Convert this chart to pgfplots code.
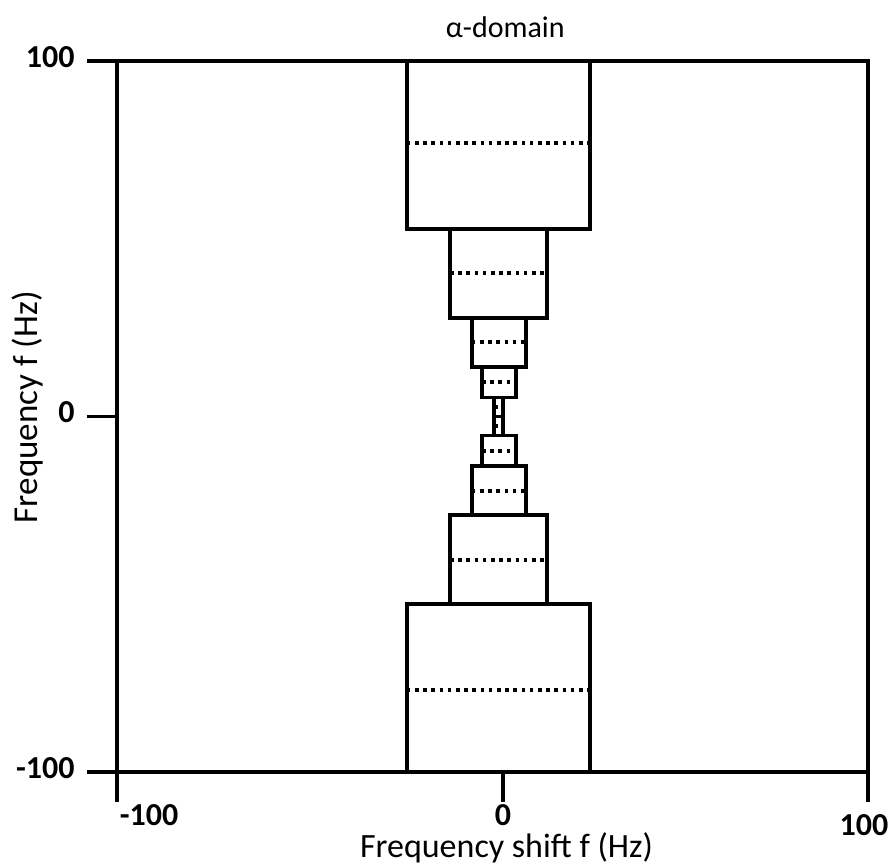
\documentclass[border=0pt]{standalone}
\usepackage{pgfplots}
\pgfplotsset{compat=1.18}
\usepackage{fontspec}
\setmainfont{Carlito}

\begin{document}
\begin{tikzpicture}
\begin{axis}[
  scale only axis, width=375.5pt, height=355.5pt,
  xmin=-100, xmax=100, ymin=-100, ymax=100,
  clip=false,
  axis line style={line width=1.7pt},
  tick align=outside, xtick pos=bottom, ytick pos=left,
  major tick length=15pt,
  every tick/.style={black, line width=1.7pt},
  xtick={-100,2.8,100},
  xticklabels={\hspace*{32pt}-100, 0, \raisebox{-5pt}[\height][\depth]{100}\hspace*{4pt}},
  ytick={-100,0,100}, yticklabels={-100,0,100},
  ticklabel style={font=\fontsize{16}{19}\selectfont\bfseries},
  xticklabel style={yshift=2.5pt},
  yticklabel style={xshift=-2.7pt, yshift=2pt},
  xlabel={Frequency shift f (Hz)},
  ylabel={Frequency f (Hz)},
  xlabel style={font=\fontsize{17}{20}\selectfont, at={(axis description cs:0.5186,-0.1205)}, anchor=base},
  ylabel style={font=\fontsize{17.5}{20}\selectfont, at={(axis description cs:-0.1185,0.513)}, anchor=center},
  title={α-domain},
  title style={font=\fontsize{15}{18}\selectfont, at={(axis description cs:0.517,1.016)}, anchor=base},
  box/.style={black, line width=1.7pt, line join=miter},
  mid/.style={black, line width=2pt, dash pattern=on 1.8pt off 2.3pt},
]
% upper half
\addplot[box] coordinates {(-22.8,52.7) (-22.8,100) (26,100) (26,52.7)} --cycle;
\addplot[mid] coordinates {(-22.8,77) (26,77)};
\addplot[box] coordinates {(-11.3,27.7) (-11.3,52.7) (14.5,52.7) (14.5,27.7)} --cycle;
\addplot[mid] coordinates {(-11.3,40.3) (14.5,40.3)};
\addplot[box] coordinates {(-5.5,13.9) (-5.5,27.7) (8.9,27.7) (8.9,13.9)} --cycle;
\addplot[mid] coordinates {(-5.5,21) (8.9,21)};
\addplot[box] coordinates {(-2.8,5.4) (-2.8,13.9) (6.3,13.9) (6.3,5.4)} --cycle;
\addplot[mid] coordinates {(-2.8,9.8) (6.3,9.8)};
\addplot[box] coordinates {(0.4,0) (0.4,5.4) (2.8,5.4) (2.8,0)} --cycle;
\addplot[mid] coordinates {(0.4,2.7) (2.8,2.7)};
% lower half
\addplot[box] coordinates {(0.4,-5.4) (0.4,0) (2.8,0) (2.8,-5.4)} --cycle;
\addplot[mid] coordinates {(0.4,-2.7) (2.8,-2.7)};
\addplot[box] coordinates {(-2.8,-13.9) (-2.8,-5.4) (6.3,-5.4) (6.3,-13.9)} --cycle;
\addplot[mid] coordinates {(-2.8,-9.8) (6.3,-9.8)};
\addplot[box] coordinates {(-5.5,-27.7) (-5.5,-13.9) (8.9,-13.9) (8.9,-27.7)} --cycle;
\addplot[mid] coordinates {(-5.5,-21) (8.9,-21)};
\addplot[box] coordinates {(-11.3,-52.7) (-11.3,-27.7) (14.5,-27.7) (14.5,-52.7)} --cycle;
\addplot[mid] coordinates {(-11.3,-40.3) (14.5,-40.3)};
\addplot[box] coordinates {(-22.8,-100) (-22.8,-52.7) (26,-52.7) (26,-100)} --cycle;
\addplot[mid] coordinates {(-22.8,-77) (26,-77)};
\end{axis}
\pgfresetboundingbox
\path[use as bounding box] ([shift={(-58.5pt,-46.5pt)}]current axis.south west) rectangle ([shift={(12.5pt,30.5pt)}]current axis.north east);
\end{tikzpicture}
\end{document}
